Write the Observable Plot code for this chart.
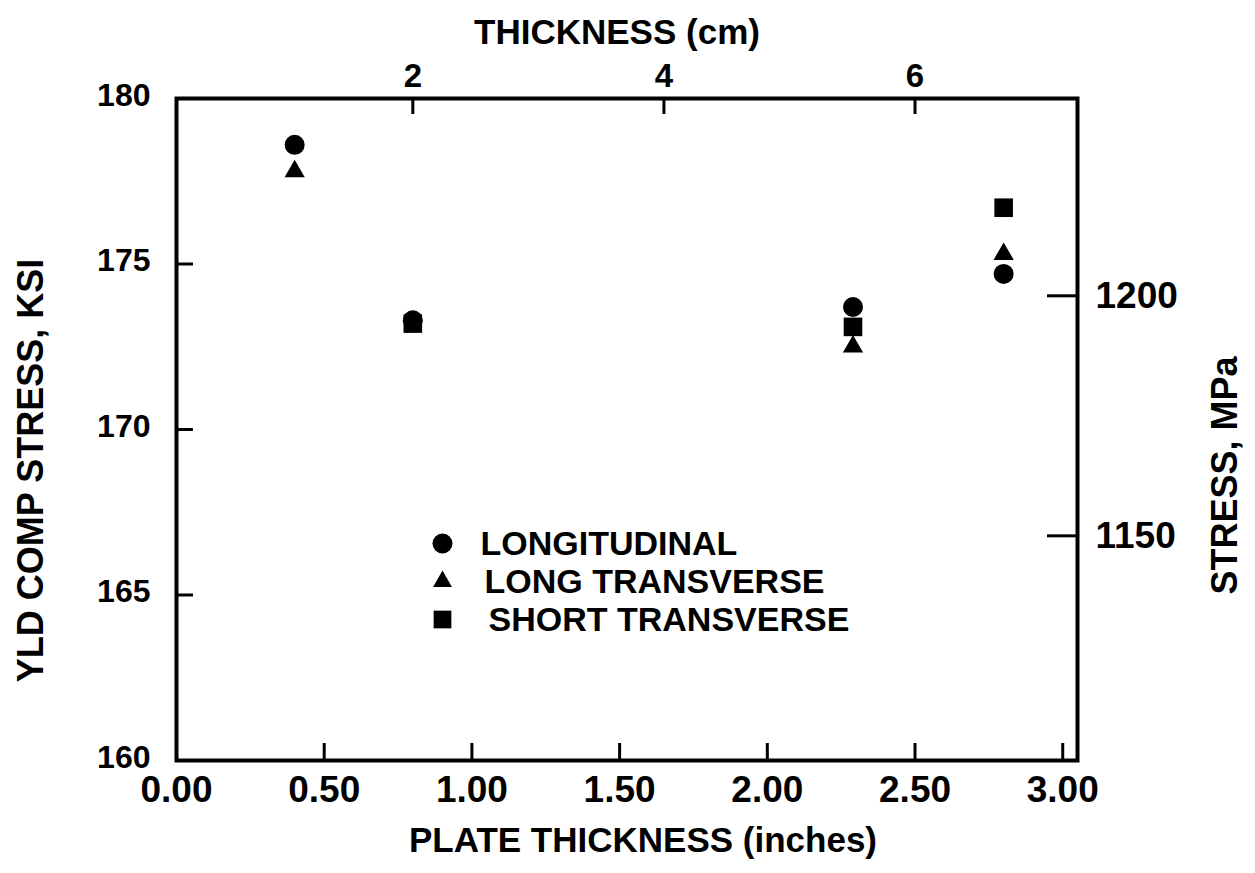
<!DOCTYPE html>
<html>
<head>
<meta charset="utf-8">
<script src="https://cdn.jsdelivr.net/npm/d3@7"></script>
<script src="https://cdn.jsdelivr.net/npm/@observablehq/plot@0.6"></script>
<style>
  html, body { margin: 0; padding: 0; background: #fff; }
  #chart { width: 1255px; height: 873px; }
</style>
</head>
<body>
<div id="chart"></div>
<script>
// ---- data ----
const thicknessIn = [0.40, 0.80, 2.29, 2.80];
const longitudinal = [178.6, 173.3, 173.7, 174.7];
const longTransverse = [177.8, null, 172.5, 175.3];
const shortTransverse = [null, 173.2, 173.1, 176.7];

const seriesNames = ["LONGITUDINAL", "LONG TRANSVERSE", "SHORT TRANSVERSE"];
const seriesSymbols = ["circle", "triangle", "square"];

const bottomTicks = [0, 0.5, 1.0, 1.5, 2.0, 2.5, 3.0];
const leftTicks = [160, 165, 170, 175, 180];
const topTickLabels = ["2", "4", "6"];
const topTickInches = [0.80, 1.65, 2.50];   // positions of cm ticks as drawn, in inches
const mpaTicks = [1150, 1200];
const KSI_PER_MPA = 1 / 6.895;

// ---- build rows ----
const rows = [];
thicknessIn.forEach((t, i) => {
  [longitudinal, longTransverse, shortTransverse].forEach((arr, s) => {
    if (arr[i] != null) rows.push({thickness: t, stress: arr[i], series: seriesNames[s]});
  });
});
const topTicks = topTickInches.map((x, i) => ({x, label: topTickLabels[i]}));

const W = 1255, H = 873, mL = 176, mR = 178, mT = 98, mB = 113;
const innerW = W - mL - mR, innerH = H - mT - mB;
const font = "'Liberation Sans', Arial, sans-serif";

const legendMarks = seriesNames.flatMap((name, i) => {
  const sizes = {circle: 10, triangle: 7, square: 10};
  return [
    Plot.dot([name], {frameAnchor: "top-left", dx: 266, dy: 445 + i * 38, symbol: seriesSymbols[i], r: sizes[seriesSymbols[i]], fill: "black", stroke: "none"}),
    Plot.text([name], {frameAnchor: "top-left", dx: 304 + i * 4, dy: 446 + i * 38, text: d => d, textAnchor: "start", lineAnchor: "middle", fontSize: 34, fontWeight: "bold"})
  ];
});

const chart = Plot.plot({
  width: W, height: H,
  marginLeft: mL, marginRight: mR, marginTop: mT, marginBottom: mB,
  style: {fontFamily: font, fontWeight: "bold", color: "black", background: "white"},
  x: {domain: [0, 3.05], axis: null},
  y: {domain: [160, 180], axis: null},
  marks: [
    Plot.frame({stroke: "black", strokeWidth: 4}),
    // inward ticks
    Plot.tickX(bottomTicks, {x: d => d, insetTop: innerH - 17, stroke: "black", strokeWidth: 3}),
    Plot.tickX(topTickInches, {x: d => d, insetBottom: innerH - 16, stroke: "black", strokeWidth: 3}),
    Plot.tickY(leftTicks, {y: d => d, insetRight: innerW - 17, stroke: "black", strokeWidth: 3}),
    Plot.tickY(mpaTicks, {y: d => d * KSI_PER_MPA, insetLeft: innerW - 30, stroke: "black", strokeWidth: 3}),
    // tick labels
    Plot.axisX({anchor: "bottom", ticks: bottomTicks, tickSize: 0, tickPadding: 15, tickFormat: d => d.toFixed(2), fontSize: 37, label: null}),
    Plot.axisY({anchor: "left", ticks: leftTicks, tickSize: 0, tickPadding: 26, tickFormat: d => String(d), fontSize: 32, dy: -3, label: null}),
    Plot.text(topTicks, {x: "x", text: "label", frameAnchor: "top", lineAnchor: "bottom", dy: -12, fontSize: 33, fontWeight: "bold"}),
    Plot.text(mpaTicks, {y: d => d * KSI_PER_MPA, text: d => String(d), frameAnchor: "right", textAnchor: "start", lineAnchor: "middle", dx: 18, fontSize: 37, fontWeight: "bold"}),
    // axis titles
    Plot.text(["THICKNESS (cm)"], {frameAnchor: "top", text: d => d, lineAnchor: "middle", textAnchor: "middle", dy: -66, dx: -10, fontSize: 35, fontWeight: "bold"}),
    Plot.text(["PLATE THICKNESS (inches)"], {frameAnchor: "bottom", text: d => d, lineAnchor: "middle", textAnchor: "middle", dy: 80, dx: 16, fontSize: 35, fontWeight: "bold"}),
    Plot.text(["YLD COMP STRESS, KSI"], {frameAnchor: "left", text: d => d, rotate: -90, textAnchor: "middle", lineAnchor: "middle", dx: -145, dy: 41, fontSize: 36, fontWeight: "bold"}),
    Plot.text(["STRESS, MPa"], {frameAnchor: "right", text: d => d, rotate: -90, textAnchor: "middle", lineAnchor: "middle", dx: 148, dy: 46, fontSize: 36, fontWeight: "bold"}),
    // data
    Plot.dot(rows.filter(d => d.series === "SHORT TRANSVERSE"), {x: "thickness", y: "stress", symbol: "square", r: 10.5, fill: "black", stroke: "none"}),
    Plot.dot(rows.filter(d => d.series === "LONG TRANSVERSE"), {x: "thickness", y: "stress", symbol: "triangle", r: 7.5, fill: "black", stroke: "none"}),
    Plot.dot(rows.filter(d => d.series === "LONGITUDINAL"), {x: "thickness", y: "stress", symbol: "circle", r: 10, fill: "black", stroke: "none"}),
    ...legendMarks
  ]
});
document.getElementById("chart").appendChild(chart);
</script>
</body>
</html>
